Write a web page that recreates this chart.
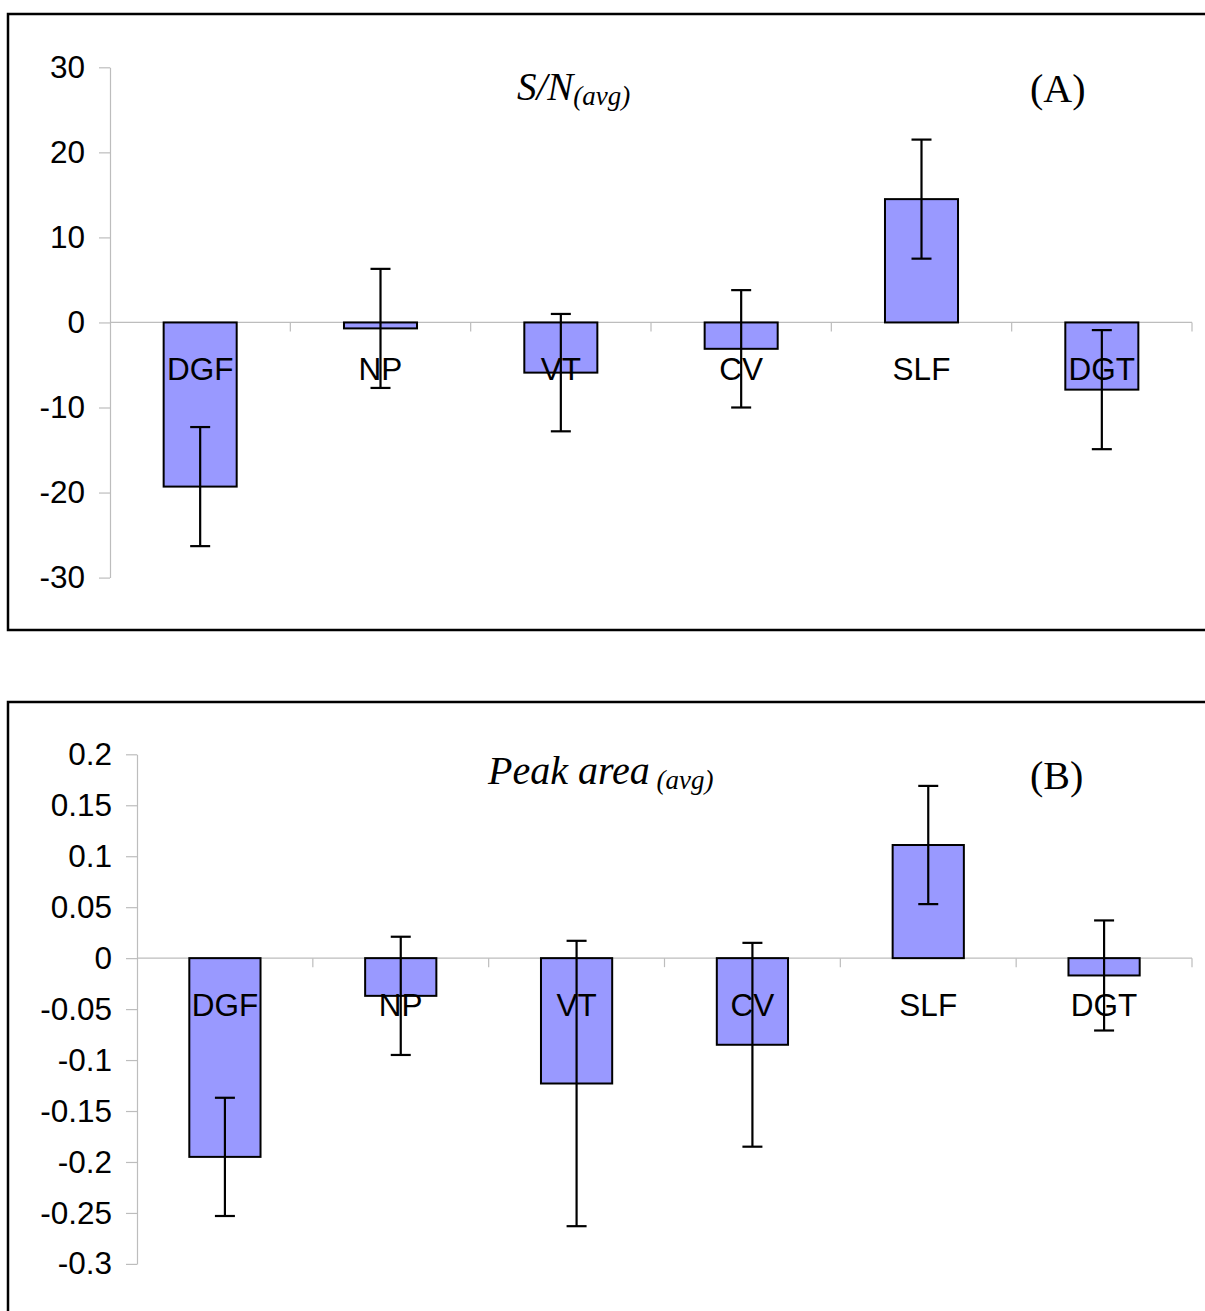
<!DOCTYPE html>
<html>
<head>
<meta charset="utf-8">
<script src="https://cdn.jsdelivr.net/npm/d3@7"></script>
<style>
  body { margin: 0; background: #fff; }
</style>
</head>
<body>
<div id="chart"></div>
<script>
const categories = ["DGF", "NP", "VT", "CV", "SLF", "DGT"];

// panel A: S/N(avg)
const snValues = [-19.3, -0.7, -5.9, -3.1, 14.5, -7.9];
const snErrors = [7.0, 7.0, 6.9, 6.9, 7.0, 7.0];
const snTicks = [30, 20, 10, 0, -10, -20, -30];

// panel B: Peak area(avg)
const areaValues = [-0.195, -0.037, -0.123, -0.085, 0.111, -0.017];
const areaErrors = [0.058, 0.058, 0.140, 0.100, 0.058, 0.054];
const areaTicks = [0.2, 0.15, 0.1, 0.05, 0, -0.05, -0.1, -0.15, -0.2, -0.25, -0.3];

const width = 1205;
const height = 1311;

const svg = d3
  .select("#chart")
  .append("svg")
  .attr("width", width)
  .attr("height", height)
  .style("background", "#fff");

function drawPanel(opt) {
  const g = svg.append("g");

  // frame
  g.append("rect")
    .attr("x", 8)
    .attr("y", opt.frameTop)
    .attr("width", 1230)
    .attr("height", opt.frameHeight)
    .attr("fill", "none")
    .attr("stroke", "#000")
    .attr("stroke-width", 2.5);

  const y = d3
    .scaleLinear()
    .domain(opt.domain)
    .range(opt.yRange);

  const x = d3
    .scaleBand()
    .domain(categories)
    .range(opt.xRange)
    .paddingInner(0.595)
    .paddingOuter(0.2975);

  // y axis
  const yAxis = d3
    .axisLeft(y)
    .tickValues(opt.ticks)
    .tickSize(11)
    .tickSizeOuter(0)
    .tickPadding(14)
    .tickFormat((d) => String(+d.toFixed(2)));

  const ya = g
    .append("g")
    .attr("transform", `translate(${opt.xRange[0]},0)`)
    .call(yAxis);
  ya.select(".domain").attr("stroke", "#bdbdbd").attr("stroke-width", 1.2);
  ya.selectAll(".tick line").attr("stroke", "#bdbdbd").attr("stroke-width", 1.2);
  ya.selectAll(".tick text")
    .attr("fill", "#000")
    .style("font-family", "'Liberation Sans', Arial, sans-serif")
    .style("font-size", "31.5px");

  // category axis at zero
  const step = x.step();
  const y0 = y(0);
  g.append("line")
    .attr("x1", opt.xRange[0])
    .attr("x2", opt.xRange[1])
    .attr("y1", y0)
    .attr("y2", y0)
    .attr("stroke", "#bdbdbd")
    .attr("stroke-width", 1.2);
  g.selectAll(".cattick")
    .data(d3.range(1, categories.length + 1))
    .enter()
    .append("line")
    .attr("x1", (i) => opt.xRange[0] + i * step)
    .attr("x2", (i) => opt.xRange[0] + i * step)
    .attr("y1", y0)
    .attr("y2", y0 + 9)
    .attr("stroke", "#bdbdbd")
    .attr("stroke-width", 1.2);

  const rows = categories.map((c, i) => ({
    cat: c,
    value: opt.values[i],
    err: opt.errors[i],
  }));

  // bars
  g.selectAll(".bar")
    .data(rows)
    .enter()
    .append("rect")
    .attr("x", (d) => x(d.cat))
    .attr("y", (d) => y(Math.max(0, d.value)))
    .attr("width", x.bandwidth())
    .attr("height", (d) => Math.abs(y(d.value) - y0))
    .attr("fill", "#9999ff")
    .attr("stroke", "#000")
    .attr("stroke-width", 2);

  // category labels
  g.selectAll(".lab")
    .data(rows)
    .enter()
    .append("text")
    .attr("x", (d) => x(d.cat) + x.bandwidth() / 2)
    .attr("y", y0 + 58)
    .attr("text-anchor", "middle")
    .style("font-family", "'Liberation Sans', Arial, sans-serif")
    .style("font-size", "31.5px")
    .text((d) => d.cat);

  // error bars
  const eb = g
    .selectAll(".err")
    .data(rows)
    .enter()
    .append("g")
    .attr("stroke", "#000")
    .attr("stroke-width", 2.2);
  const cx = (d) => x(d.cat) + x.bandwidth() / 2;
  eb.append("line")
    .attr("x1", cx)
    .attr("x2", cx)
    .attr("y1", (d) => y(d.value + d.err))
    .attr("y2", (d) => y(d.value - d.err));
  eb.append("line")
    .attr("x1", (d) => cx(d) - 10)
    .attr("x2", (d) => cx(d) + 10)
    .attr("y1", (d) => y(d.value + d.err))
    .attr("y2", (d) => y(d.value + d.err));
  eb.append("line")
    .attr("x1", (d) => cx(d) - 10)
    .attr("x2", (d) => cx(d) + 10)
    .attr("y1", (d) => y(d.value - d.err))
    .attr("y2", (d) => y(d.value - d.err));

  // title
  const t = g
    .append("text")
    .attr("x", opt.titleX)
    .attr("y", opt.titleY)
    .style("font-family", "'Liberation Serif', 'Times New Roman', serif")
    .style("font-style", "italic")
    .style("font-size", opt.titleSize + "px");
  t.append("tspan").text(opt.title);
  t.append("tspan")
    .attr("dy", 5)
    .style("font-size", "27px")
    .text(opt.sub);

  g.append("text")
    .attr("x", 1030)
    .attr("y", opt.tagY)
    .style("font-family", "'Liberation Serif', 'Times New Roman', serif")
    .style("font-size", "40px")
    .text(opt.tag);
}

drawPanel({
  frameTop: 14,
  frameHeight: 616,
  domain: [-30, 30],
  yRange: [577.6, 67.3],
  xRange: [110, 1192],
  ticks: snTicks,
  values: snValues,
  errors: snErrors,
  title: "S/N",
  sub: "(avg)",
  titleSize: 39,
  titleX: 517,
  titleY: 100,
  tag: "(A)",
  tagY: 102,
});

drawPanel({
  frameTop: 702,
  frameHeight: 700,
  domain: [-0.3, 0.2],
  yRange: [1263.9, 754.3],
  xRange: [137, 1192],
  ticks: areaTicks,
  values: areaValues,
  errors: areaErrors,
  title: "Peak area",
  sub: "\u00a0(avg)",
  titleSize: 40,
  titleX: 488,
  titleY: 784,
  tag: "(B)",
  tagY: 789,
});
</script>
</body>
</html>
